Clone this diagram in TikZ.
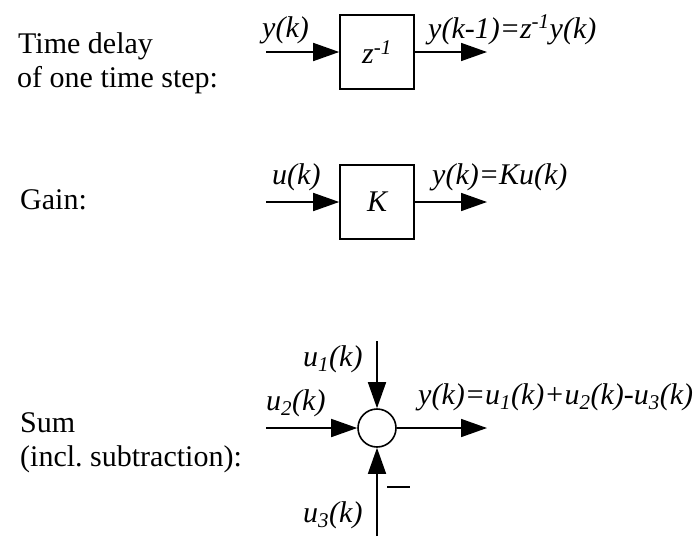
\documentclass[tikz,border=0pt]{standalone}
\usepackage{fontspec}
\setmainfont{Liberation Serif}
\usetikzlibrary{arrows.meta}
\frenchspacing
\begin{document}
\begin{tikzpicture}[x=1pt,y=-1pt,
  font=\fontsize{30}{34.5}\selectfont,
  blk/.style={draw,line width=1.6pt,minimum width=74pt,minimum height=74pt,inner sep=0pt},
  sumnode/.style={draw,circle,line width=1.6pt,minimum size=38pt,inner sep=0pt},
  sig/.style={line width=1.6pt,-{Triangle[length=26pt,width=18pt]}},
  lbl/.style={anchor=base west,inner sep=0pt,font=\fontsize{30}{34.5}\selectfont\itshape},
  txt/.style={anchor=base west,inner sep=0pt}]
\useasboundingbox (0,0) rectangle (700,536);
% left descriptions
\node[txt] (t1) at (18,53) {Time delay};
\node[txt] (t2) at (17,87) {of one time step:};
\node[txt] (t3) at (20,209) {Gain:};
\node[txt] (t4) at (20,432) {Sum};
\node[txt] (t5) at (20,466) {(incl. subtraction):};
% delay block
\node[blk] (d) at (377,52) {\itshape z\textsuperscript{-1}};
\coordinate (din) at (266,52);
\coordinate (dout) at (487,52);
\draw[sig] (din) -- (d.west);
\draw[sig] (d.east) -- (dout);
\node[lbl] (dl1) at (262,37) {y(k)};
\node[lbl] (dl2) at (428,38) {y(k-1)=z\textsuperscript{-1}y(k)};
% gain block
\node[blk] (g) at (377,202) {\itshape K};
\coordinate (gin) at (266,202);
\coordinate (gout) at (487,202);
\draw[sig] (gin) -- (g.west);
\draw[sig] (g.east) -- (gout);
\node[lbl] (gl1) at (272,184) {u(k)};
\node[lbl] (gl2) at (432,184) {y(k)=Ku(k)};
% sum
\node[sumnode] (s) at (377,428) {};
\coordinate (sin) at (266,428);
\coordinate (stop) at (377,341);
\coordinate (sbot) at (377,536);
\coordinate (sout) at (487,428);
\draw[sig] (sin) -- (s.west);
\draw[sig] (stop) -- (s.north);
\draw[sig] (sbot) -- (s.south);
\draw[sig] (s.east) -- (sout);
\node[lbl] (sl1) at (303,366) {u\textsubscript{1}(k)};
\node[lbl] (sl2) at (266,410) {u\textsubscript{2}(k)};
\node[lbl] (sl3) at (303,522) {u\textsubscript{3}(k)};
\node[lbl] (sl4) at (418,404) {y(k)=u\textsubscript{1}(k)+u\textsubscript{2}(k)-u\textsubscript{3}(k)};
\node[inner sep=0pt] (minus) at (398.5,487) {\rule{23pt}{1.6pt}};
\end{tikzpicture}
\end{document}
